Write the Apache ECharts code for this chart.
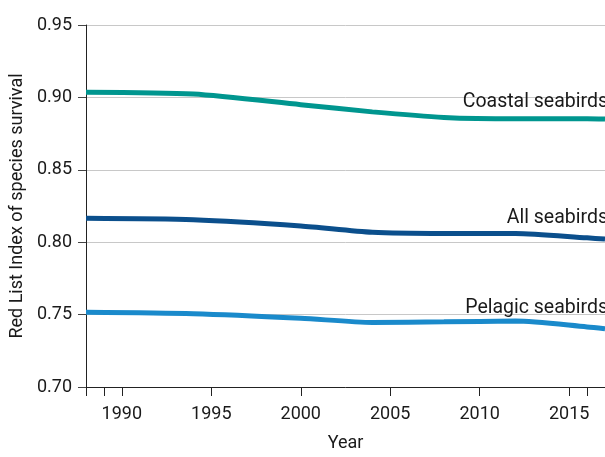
<!DOCTYPE html>
<html>
<head>
<meta charset="utf-8">
<script src="https://cdn.jsdelivr.net/npm/echarts@6/dist/echarts.min.js"></script>
<style>html,body{margin:0;padding:0;background:#fff;overflow:hidden;}#c{width:605px;height:457px;}</style>
</head>
<body>
<div id="c"></div>
<script>
const years = [1988, 1994, 2000, 2004, 2008, 2012, 2016, 2017];
const coastal = [0.9036, 0.9023, 0.8950, 0.8900, 0.8862, 0.8852, 0.8852, 0.8850];
const allSeabirds = [0.8165, 0.8155, 0.8112, 0.8068, 0.8060, 0.8060, 0.8030, 0.8022];
const pelagic = [0.7516, 0.7506, 0.7475, 0.7446, 0.7450, 0.7455, 0.7415, 0.7403];
const seriesNames = ['Coastal seabirds', 'All seabirds', 'Pelagic seabirds'];
const xLabelYears = [1990, 1995, 2000, 2005, 2010, 2015];
const xTickYears = [1988, 1989, 1990, 1995, 2000, 2005, 2010, 2015, 2016];

const FONT = 'Roboto';
const chart = echarts.init(document.getElementById('c'), null, {renderer: 'canvas'});
const colors = ['#00968f', '#0b4f8c', '#1a8acb'];
const seriesData = [coastal, allSeabirds, pelagic];
const labelDy = [-17, -21, -21];

function mk(i) {
  const vals = seriesData[i];
  return {
    name: seriesNames[i],
    type: 'line',
    data: years.map((y, k) => [y, vals[k]]),
    smooth: 0.25,
    showSymbol: false,
    symbol: 'none',
    lineStyle: {color: colors[i], width: 5},
    itemStyle: {color: colors[i]},
    z: 5,
    markPoint: {
      symbol: 'circle', symbolSize: 0,
      data: [{coord: [years[years.length - 1], vals[vals.length - 1]]}],
      label: {
        show: true, formatter: seriesNames[i], position: 'inside',
        align: 'right', verticalAlign: 'middle', offset: [3, labelDy[i]],
        color: '#1a1a1a', fontFamily: FONT, fontSize: 19.5
      }
    }
  };
}

chart.setOption({
  animation: false,
  grid: {left: 85, top: 25, width: 524, height: 369, containLabel: false},
  xAxis: {
    type: 'value', min: 1988, max: 2017,
    name: 'Year', nameLocation: 'middle', nameGap: 47,
    nameTextStyle: {color: '#1a1a1a', fontFamily: FONT, fontSize: 18},
    axisLine: {show: true, lineStyle: {color: '#222', width: 1}},
    axisTick: {show: true, length: 9, customValues: xTickYears, lineStyle: {color: '#222'}},
    axisLabel: {customValues: xLabelYears, margin: 18, color: '#1a1a1a', fontFamily: FONT, fontSize: 18, formatter: v => String(v)},
    splitLine: {show: false}
  },
  yAxis: {
    type: 'value', min: 0.70, max: 0.95, interval: 0.05,
    name: 'Red List Index of species survival', nameLocation: 'middle', nameGap: 58,
    nameTextStyle: {color: '#1a1a1a', fontFamily: FONT, fontSize: 18},
    axisLine: {show: true, lineStyle: {color: '#222', width: 1}},
    axisTick: {show: true, length: 8, lineStyle: {color: '#444'}},
    axisLabel: {margin: 14, color: '#1a1a1a', fontFamily: FONT, fontSize: 18, formatter: v => v.toFixed(2)},
    splitLine: {show: true, lineStyle: {color: '#c8c8c8', width: 1}}
  },
  series: [mk(0), mk(1), mk(2)]
});
</script>
</body>
</html>
